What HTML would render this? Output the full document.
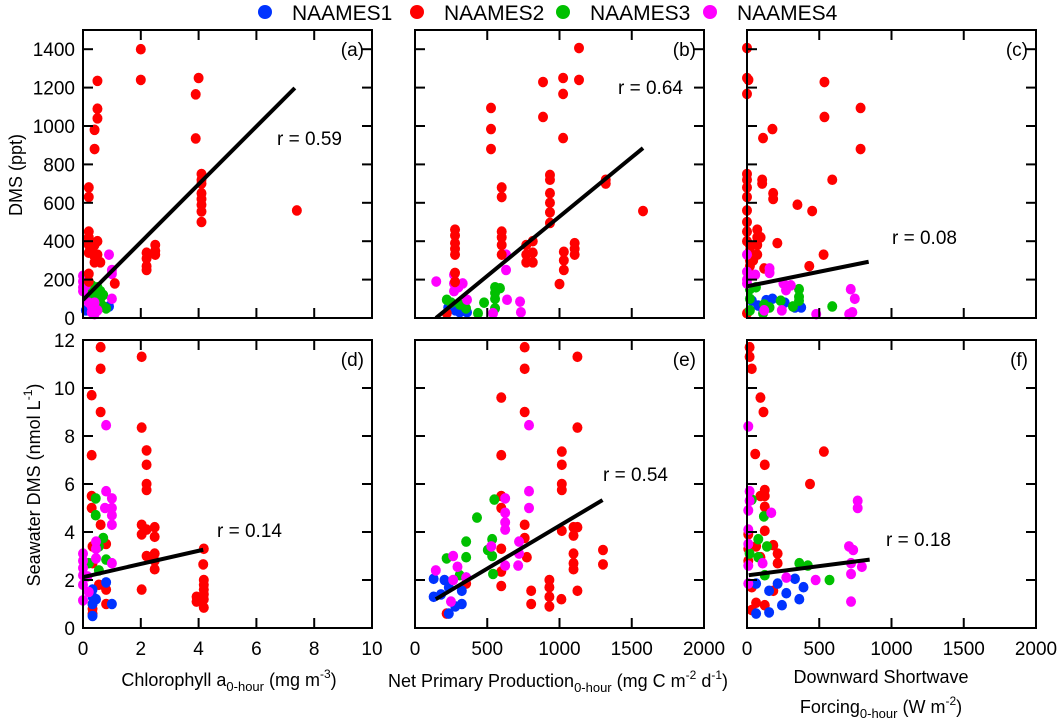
<!DOCTYPE html>
<html><head><meta charset="utf-8">
<style>
html,body{margin:0;padding:0;background:#fff;}
svg text{font-family:"Liberation Sans",Arial,sans-serif;fill:#000;}
</style></head>
<body>
<svg id="chart" width="1058" height="719" viewBox="0 0 1058 719" xmlns="http://www.w3.org/2000/svg">
<g>
  <g><circle cx="265" cy="12" r="7" fill="#0033ff"/><text x="292" y="20" font-size="21">NAAMES1</text></g>
  <g><circle cx="417" cy="12" r="7" fill="#ff0000"/><text x="444" y="20" font-size="21">NAAMES2</text></g>
  <g><circle cx="563" cy="12" r="7" fill="#00c000"/><text x="590" y="20" font-size="21">NAAMES3</text></g>
  <g><circle cx="710" cy="12" r="7" fill="#ff00ff"/><text x="737" y="20" font-size="21">NAAMES4</text></g>
</g>
<text transform="translate(22,175) rotate(-90)" text-anchor="middle" font-size="18">DMS (ppt)</text>
<text transform="translate(40,485) rotate(-90)" text-anchor="middle" font-size="18">Seawater DMS (nmol L<tspan dy="-8" font-size="12">-1</tspan><tspan dy="8">)</tspan></text>
<text x="229" y="686" text-anchor="middle" font-size="18">Chlorophyll a<tspan dy="5" font-size="13">0-hour</tspan><tspan dy="-5"> (mg m</tspan><tspan dy="-8" font-size="12">-3</tspan><tspan dy="8">)</tspan></text>
<text x="558" y="687" text-anchor="middle" font-size="18">Net Primary Production<tspan dy="5" font-size="13">0-hour</tspan><tspan dy="-5"> (mg C m</tspan><tspan dy="-8" font-size="12">-2</tspan><tspan dy="8"> d</tspan><tspan dy="-8" font-size="12">-1</tspan><tspan dy="8">)</tspan></text>
<text x="881" y="683" text-anchor="middle" font-size="18">Downward Shortwave</text>
<text x="881" y="713" text-anchor="middle" font-size="18">Forcing<tspan dy="5" font-size="13">0-hour</tspan><tspan dy="-5"> (W m</tspan><tspan dy="-8" font-size="12">-2</tspan><tspan dy="8">)</tspan></text>
</svg>
<script>
// ---- data (a) chl vs DMS ppt
const aRed=[[0.2,680],[0.2,630],[0.5,1090],[0.4,980],[0.4,880],[0.5,1040],[0.5,1235],[2.0,1400],[2.0,1240],[4.0,1250],[3.9,1165],[3.9,935],[4.1,750],[4.1,720],[4.1,700],[4.1,650],[4.1,620],[4.1,590],[4.1,555],[4.1,500],[7.4,560],[2.2,340],[2.2,310],[2.2,270],[2.2,250],[2.5,380],[2.5,350],[2.5,330],[0.2,450],[0.2,420],[0.2,400],[0.2,380],[0.2,340],[0.3,360],[0.4,380],[0.5,400],[0.5,330],[0.5,300],[0.6,290],[0.4,290],[0.2,230],[0.2,190],[1.1,180],[0.4,320]];
const aMag=[[0,220],[0,190],[0,160],[0,140],[0.05,200],[0.1,170],[0.9,330],[1.0,250],[1.0,230],[1.0,100],[0.3,60],[0.3,30],[0.4,20],[0.5,40],[0.2,80],[0.4,80]];
const aGrn=[[0.2,150],[0.3,170],[0.4,120],[0.5,100],[0.6,80],[0.7,60],[0.5,160],[0.6,140],[0.3,90],[0.7,120],[0.2,110],[0.8,50],[0.4,150],[0.6,110]];
const aBlu=[[0.1,40],[0.2,50],[0.3,45],[0.9,60],[0.5,55]];
const aFit=[[0,94],[7.33,1198]];
// ---- (b) NPP vs DMS ppt
const bRed=[[1135,1406],[1025,1250],[1135,1240],[886,1229],[1025,1167],[526,1094],[526,984],[526,880],[886,1047],[1025,937],[934,745],[934,720],[934,650],[934,600],[934,550],[934,495],[600,680],[600,630],[600,450],[600,420],[600,380],[600,330],[1320,720],[1320,700],[1578,557],[277,460],[277,430],[277,390],[277,360],[277,330],[277,235],[277,188],[770,380],[770,330],[770,290],[815,400],[815,340],[815,290],[1030,345],[1030,300],[1030,250],[1105,390],[1105,360],[1105,330],[1000,177],[220,25]];
const bMag=[[147,190],[270,225],[270,180],[270,140],[330,180],[630,330],[630,250],[637,95],[727,85],[733,30],[540,25],[360,95],[300,160]];
const bGrn=[[220,95],[310,70],[478,80],[554,160],[554,130],[554,100],[554,50],[588,155],[436,25],[353,50],[250,80]];
const bBlu=[[230,55],[310,65],[310,30],[360,30],[280,40]];
const bFit=[[145,0],[1578,885]];
// ---- (c) SW vs DMS ppt
const cRed=[[0,1406],[0,1250],[10,1240],[0,1167],[536,1229],[536,1047],[786,1094],[786,880],[176,984],[111,937],[590,720],[105,720],[105,700],[181,650],[181,620],[349,590],[451,557],[0,750],[0,720],[0,680],[0,630],[0,560],[0,500],[0,450],[0,400],[71,460],[71,420],[71,380],[71,330],[94,420],[210,390],[530,330],[431,270],[119,258],[20,380],[20,350],[20,300],[20,270],[43,300],[0,25]];
const cMag=[[0,330],[0,240],[0,200],[0,180],[57,225],[156,258],[156,235],[252,180],[303,170],[270,145],[718,150],[746,100],[729,30],[707,20],[479,20],[241,40],[119,40]];
const cGrn=[[62,160],[20,150],[20,100],[20,40],[119,70],[156,55],[233,90],[318,60],[360,150],[360,110],[360,90],[590,60],[111,25]];
const cBlu=[[133,93],[176,100],[261,80],[375,55],[332,55],[34,90],[77,65]];
const cFit=[[0,165],[842,293]];
// ---- (d) chl vs seawater DMS
const dRed=[[0.61,11.7],[0.61,10.8],[0.3,9.7],[0.61,9.0],[0.3,7.2],[2.03,11.3],[2.03,8.35],[2.2,7.4],[2.2,6.8],[2.2,6.0],[2.2,5.75],[2.03,4.3],[2.03,3.9],[2.2,4.1],[2.48,4.2],[2.48,3.8],[2.48,3.1],[2.48,2.8],[2.48,2.45],[2.2,3.0],[2.03,1.6],[4.18,3.3],[4.16,2.65],[4.18,2.0],[4.18,1.8],[4.18,1.6],[4.18,1.4],[4.18,1.2],[4.18,0.85],[3.93,1.3],[3.93,1.1],[0.3,5.5],[0.3,5.0],[0.61,4.3],[0.8,3.5],[0.33,3.4],[0.33,2.7],[0.55,1.8],[0.8,1.6],[0.8,1.0],[0.33,1.0],[0.33,0.8],[0.33,0.6]];
const dMag=[[0.8,8.45],[0.8,5.7],[1.0,5.4],[1.0,5.0],[1.0,4.7],[1.0,4.3],[0.76,5.0],[0,3.1],[0,2.8],[0,2.5],[0,2.2],[0,1.8],[0,1.15],[0.45,3.6],[0.45,3.3],[0.45,2.9],[0.15,2.15],[1.0,2.7],[0.2,1.5]];
const dGrn=[[0.44,5.4],[0.44,4.7],[0.7,3.75],[0.8,2.85],[0.55,2.4],[0.2,2.7],[0.55,3.4]];
const dBlu=[[0.33,1.6],[0.33,1.3],[0.33,1.0],[0.33,0.5],[0.8,1.9],[1.0,1.0],[0.45,1.2]];
const dFit=[[0,2.12],[4.16,3.26]];
// ---- (e) NPP vs seawater DMS
const eRed=[[759,11.7],[759,10.8],[1124,11.3],[597,9.6],[759,9.0],[1124,8.35],[597,7.2],[1016,7.35],[1016,6.8],[1016,6.0],[1016,5.75],[597,5.5],[597,5.0],[759,4.3],[759,3.75],[1016,4.05],[1097,4.2],[1097,3.85],[1124,4.2],[1097,3.1],[1097,2.7],[1097,2.45],[1301,3.25],[1301,2.65],[1124,1.55],[804,1.55],[804,1.0],[930,2.0],[930,1.7],[930,1.3],[930,0.9],[1013,1.2],[597,3.3],[597,2.35],[597,1.75],[774,2.95],[219,0.6],[354,1.85]];
const eMag=[[789,8.45],[789,5.7],[789,5.0],[624,5.4],[624,4.8],[624,4.4],[624,4.1],[720,3.6],[720,3.1],[714,2.6],[624,2.6],[528,3.4],[144,2.4],[264,3.0],[264,2.0],[294,2.55],[354,2.1],[249,1.1]];
const eGrn=[[549,5.35],[429,4.6],[354,3.6],[354,2.95],[219,2.9],[534,3.7],[534,3.0],[504,3.25],[540,2.25],[309,2.2]];
const eBlu=[[129,2.05],[129,1.3],[234,1.7],[234,0.6],[324,1.55],[324,1.0],[354,2.1],[204,2.0],[279,0.9],[180,1.4]];
const eFit=[[144,1.2],[1298,5.33]];
// ---- (f) SW vs seawater DMS
const fRed=[[18,11.7],[18,11.3],[33,10.8],[93,9.6],[114,9.0],[57,7.25],[123,6.8],[532,7.35],[436,6.0],[123,5.75],[123,5.5],[93,5.5],[123,5.05],[123,4.05],[9,3.9],[9,3.3],[9,2.8],[63,3.4],[182,3.45],[93,2.95],[212,3.1],[212,2.7],[182,1.55],[123,0.95],[33,1.7],[33,0.75],[63,1.05]];
const fMag=[[9,8.4],[18,5.7],[18,5.3],[9,4.9],[9,4.1],[168,4.8],[9,3.5],[9,2.6],[9,1.85],[766,5.3],[766,5.0],[706,3.4],[735,3.25],[720,2.7],[720,2.25],[795,2.55],[720,1.1],[475,2.0],[272,2.1],[108,2.7]];
const fGrn=[[33,5.35],[117,4.65],[78,3.7],[78,2.95],[138,3.4],[362,2.7],[421,2.6],[571,2.0],[123,2.2],[18,3.1]];
const fBlu=[[63,1.85],[63,0.6],[153,1.55],[153,0.65],[272,1.45],[362,1.2],[391,1.7],[332,2.05],[242,0.95],[212,1.85]];
const fFit=[[12,2.2],[849,2.85]];
// ---- tick labels
const yTicksTop=[0,200,400,600,800,1000,1200,1400];
const yTicksBot=[0,2,4,6,8,10,12];
const xTicksChl=[0,2,4,6,8,10];
const xTicksNpp=[0,500,1000,1500,2000];
const rLabels=["r = 0.59","r = 0.64","r = 0.08","r = 0.14","r = 0.54","r = 0.18"];

const NS="http://www.w3.org/2000/svg";
const svg=document.getElementById('chart');
function mk(tag,attrs,parent){const e=document.createElementNS(NS,tag);for(const k in attrs)e.setAttribute(k,attrs[k]);(parent||svg).appendChild(e);return e;}
const COLORS={blue:"#0033ff",red:"#ff0000",green:"#00c000",magenta:"#ff00ff"};
const panels=[
 {id:'a',L:83,T:30,xmax:10,ymax:1500,xt:xTicksChl,yt:yTicksTop,ylab:true,xlab:false,s:{blue:aBlu,green:aGrn,magenta:aMag,red:aRed},fit:aFit,r:[277,145]},
 {id:'b',L:415,T:30,xmax:2000,ymax:1500,xt:xTicksNpp,yt:yTicksTop,ylab:false,xlab:false,s:{blue:bBlu,green:bGrn,magenta:bMag,red:bRed},fit:bFit,r:[618,94]},
 {id:'c',L:747,T:30,xmax:2000,ymax:1500,xt:xTicksNpp,yt:yTicksTop,ylab:false,xlab:false,s:{red:cRed,blue:cBlu,green:cGrn,magenta:cMag},fit:cFit,r:[892,244]},
 {id:'d',L:83,T:340,xmax:10,ymax:12,xt:xTicksChl,yt:yTicksBot,ylab:true,xlab:true,s:{red:dRed,blue:dBlu,green:dGrn,magenta:dMag},fit:dFit,r:[217,537]},
 {id:'e',L:415,T:340,xmax:2000,ymax:12,xt:xTicksNpp,yt:yTicksBot,ylab:false,xlab:true,s:{red:eRed,blue:eBlu,green:eGrn,magenta:eMag},fit:eFit,r:[603,481]},
 {id:'f',L:747,T:340,xmax:2000,ymax:12,xt:xTicksNpp,yt:yTicksBot,ylab:false,xlab:true,s:{red:fRed,blue:fBlu,green:fGrn,magenta:fMag},fit:fFit,r:[886,546]}
];
const W=289,H=288;
panels.forEach((p,pi)=>{
  const g=mk('g',{});
  
  
  const xs=v=>p.L+v/p.xmax*W, ys=v=>p.T+H-v/p.ymax*H;
  const clip=mk('clipPath',{id:'clip'+p.id},g);
  mk('rect',{x:p.L,y:p.T,width:W,height:H},clip);
  const pts=mk('g',{},g);
  for(const name in p.s){
    const sg=mk('g',{fill:COLORS[name]},pts);
    
    
    p.s[name].forEach(d=>{
      const c=mk('ellipse',{cx:xs(d[0]),cy:ys(d[1]),rx:5,ry:5.3},sg);
      
      
    });
  }
  const ln=mk('line',{x1:xs(p.fit[0][0]),y1:ys(p.fit[0][1]),x2:xs(p.fit[1][0]),y2:ys(p.fit[1][1]),stroke:'#000','stroke-width':4,'clip-path':'url(#clip'+p.id+')'},g);
  
  
  const fr=mk('rect',{x:p.L,y:p.T,width:W,height:H,fill:'none',stroke:'#000','stroke-width':2},g);
  
  
  const tg=mk('g',{stroke:'#000','stroke-width':2},g);
  
  
  p.xt.forEach(v=>{const x=xs(v);mk('line',{x1:x,y1:p.T+H,x2:x,y2:p.T+H-10},tg);mk('line',{x1:x,y1:p.T,x2:x,y2:p.T+10},tg);
    if(p.xlab){const t=mk('text',{x:x,y:p.T+H+27,'text-anchor':'middle','font-size':19,stroke:'none'},g);t.textContent=v;
      
      }});
  p.yt.forEach(v=>{const y=ys(v);mk('line',{x1:p.L,y1:y,x2:p.L+10,y2:y},tg);mk('line',{x1:p.L+W,y1:y,x2:p.L+W-10,y2:y},tg);
    if(p.ylab){const t=mk('text',{x:p.L-8,y:y+7,'text-anchor':'end','font-size':19},g);t.textContent=v;
      
      }});
  const lt=mk('text',{x:p.L+W-8,y:p.T+26,'text-anchor':'end','font-size':19},g);
  lt.textContent='('+p.id+')';
  
  
  const rt=mk('text',{x:p.r[0],y:p.r[1],'font-size':19},g);
  rt.textContent=rLabels[pi];
  
  
});
</script>
</body></html>
